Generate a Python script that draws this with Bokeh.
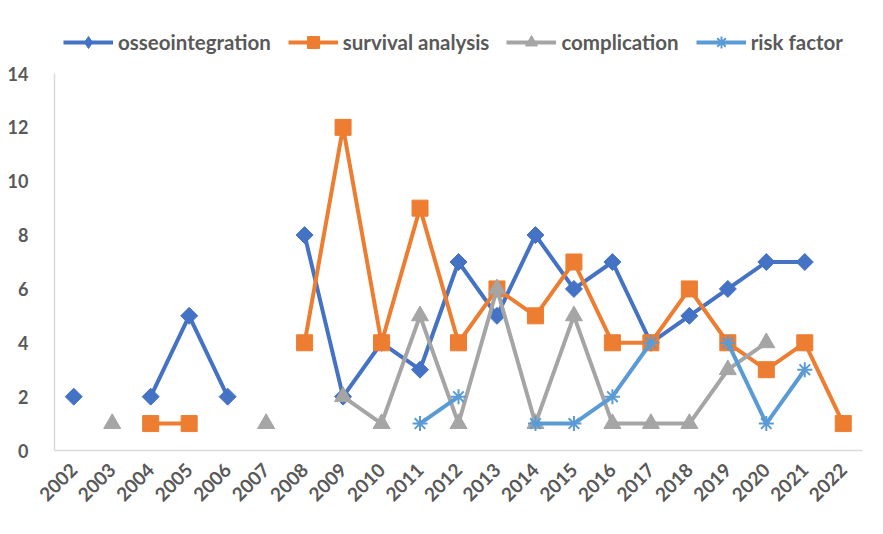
import math
import numpy as np
from bokeh.plotting import figure
from bokeh.models import Legend, LegendItem, Range1d, FactorRange
from bokeh.embed import file_html
from bokeh.resources import INLINE

nan = float("nan")
years = [str(y) for y in range(2002, 2023)]

osseointegration = [2, nan, 2, 5, 2, nan, 8, 2, 4, 3, 7, 5, 8, 6, 7, 4, 5, 6, 7, 7, nan]
survival_analysis = [nan, nan, 1, 1, nan, nan, 4, 12, 4, 9, 4, 6, 5, 7, 4, 4, 6, 4, 3, 4, 1]
complication = [nan, 1, nan, nan, nan, 1, nan, 2, 1, 5, 1, 6, 1, 5, 1, 1, 1, 3, 4, nan, nan]
risk_factor = [nan, nan, nan, nan, nan, nan, nan, nan, nan, 1, 2, nan, 1, 1, 2, 4, nan, 4, 1, 3, nan]

y_ticks = [0, 2, 4, 6, 8, 10, 12, 14]

# (label, values, colour, marker, size, marker angle, legend marker)
series = [
    ("osseointegration", osseointegration, "#4472C4", "square", 12, math.pi / 4, "diamond"),
    ("survival analysis", survival_analysis, "#ED7D31", "square", 16, 0, None),
    ("complication", complication, "#A5A5A5", "triangle", 17, 0, None),
    ("risk factor", risk_factor, "#5B9BD5", "asterisk", 15, 0, None),
]

FONT = "Lato"
TXT = "#595959"

# frame spans from 10px to 450px (440px); 0..14 occupies the lower 377px
Y_TOP = 14 * 440 / 377.0

p = figure(x_range=FactorRange(*years), y_range=Range1d(0, Y_TOP),
           width=883, height=534, output_backend="svg", toolbar_location=None,
           min_border_left=54, min_border_right=21, min_border_top=10, min_border_bottom=84)
p.outline_line_color = None
p.background_fill_color = "white"
p.border_fill_color = "white"
p.xgrid.grid_line_color = None
p.ygrid.grid_line_color = None

items = []
for name, vals, color, marker, size, ang, leg_marker in series:
    r1 = p.line(years, vals, line_color=color, line_width=4)
    if marker == "asterisk":
        r2 = p.scatter(years, vals, marker=marker, size=size, line_color=color,
                       line_width=2, fill_color=None)
    else:
        r2 = p.scatter(years, vals, marker=marker, size=size, angle=ang, fill_color=color,
                       line_color=color, line_width=1)
    leg_r = r2
    if leg_marker is not None:
        # legend-only marker: one point with no value, so nothing is plotted
        leg_r = p.scatter(x=[years[0]], y=[nan], marker=leg_marker, size=20,
                          fill_color=color, line_color=color)
    items.append(LegendItem(label=name, renderers=[r1, leg_r]))

legend = Legend(items=items, orientation="horizontal", location=(9, 393),
                glyph_width=50, glyph_height=30, label_standoff=5, spacing=17,
                padding=0, margin=0, background_fill_alpha=0, border_line_color=None,
                label_text_font=FONT, label_text_font_style="bold",
                label_text_font_size="20.5px", label_text_color=TXT)
p.add_layout(legend, "center")

for ax in (p.xaxis[0], p.yaxis[0]):
    ax.axis_line_color = "#D9D9D9"
    ax.axis_line_width = 1.5
    ax.major_tick_line_color = None
    ax.minor_tick_line_color = None
    ax.major_label_text_font = FONT
    ax.major_label_text_font_style = "bold"
    ax.major_label_text_color = TXT

p.yaxis.ticker = y_ticks
p.yaxis.bounds = (0, 14)
p.yaxis.major_label_text_font_size = "18px"
p.yaxis.major_label_standoff = 20
p.xaxis.major_label_text_font_size = "19px"
p.xaxis.major_label_orientation = math.pi / 4
p.xaxis.major_label_standoff = 10

open("out.html", "w").write(file_html(p, INLINE))
